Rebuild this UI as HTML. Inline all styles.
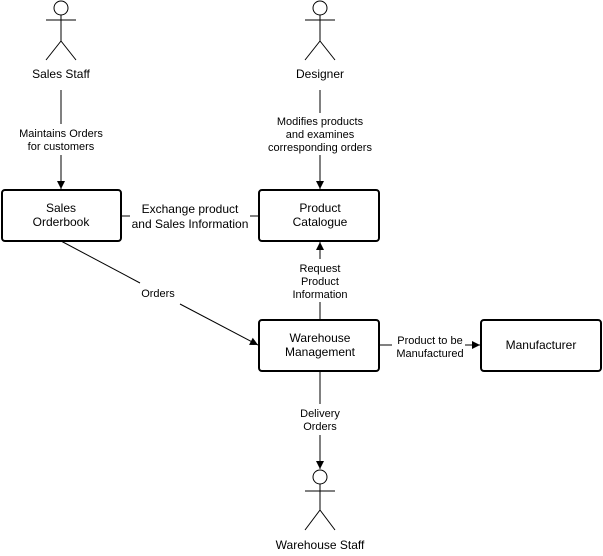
<!DOCTYPE html>
<html><head><style>
html,body{margin:0;padding:0;background:#fff;}
svg{display:block;}
text{font-family:"Liberation Sans",sans-serif;fill:#000;}
</style></head><body>
<svg width="603" height="556" viewBox="0 0 603 556" xmlns="http://www.w3.org/2000/svg">
<defs>
<marker id="a" markerWidth="10" markerHeight="10" refX="9" refY="5" orient="auto" markerUnits="userSpaceOnUse">
<path d="M1,1 L9,5 L1,9 Z" fill="#000"/>
</marker>
</defs>
<g fill="none" stroke="#000" stroke-width="1">
<!-- Sales staff actor -->
<circle cx="61" cy="8" r="7" fill="#fff"/>
<line x1="61" y1="15" x2="61" y2="41"/>
<line x1="46" y1="20" x2="76" y2="20"/>
<line x1="61" y1="41" x2="46" y2="60"/>
<line x1="61" y1="41" x2="76" y2="60"/>
<!-- Designer actor -->
<circle cx="320" cy="8" r="7" fill="#fff"/>
<line x1="320" y1="15" x2="320" y2="41"/>
<line x1="305" y1="20" x2="335" y2="20"/>
<line x1="320" y1="41" x2="305" y2="60"/>
<line x1="320" y1="41" x2="335" y2="60"/>
<!-- Warehouse staff actor -->
<circle cx="320" cy="477" r="7" fill="#fff"/>
<line x1="320" y1="484" x2="320" y2="510"/>
<line x1="305" y1="491" x2="335" y2="491"/>
<line x1="320" y1="510" x2="305" y2="530"/>
<line x1="320" y1="510" x2="335" y2="530"/>
<!-- connectors -->
<line x1="61" y1="90" x2="61" y2="124"/>
<line x1="61" y1="155" x2="61" y2="189" marker-end="url(#a)"/>
<line x1="320" y1="90" x2="320" y2="113"/>
<line x1="320" y1="155" x2="320" y2="189" marker-end="url(#a)"/>
<line x1="121" y1="216" x2="130" y2="216"/>
<line x1="250" y1="216" x2="259" y2="216"/>
<line x1="61" y1="241" x2="140" y2="283"/>
<line x1="180" y1="304" x2="258" y2="345" marker-end="url(#a)"/>
<line x1="320" y1="320" x2="320" y2="302"/>
<line x1="320" y1="259" x2="320" y2="242" marker-end="url(#a)"/>
<line x1="379" y1="345" x2="392" y2="345"/>
<line x1="465" y1="345" x2="480" y2="345" marker-end="url(#a)"/>
<line x1="320" y1="371" x2="320" y2="404"/>
<line x1="320" y1="435" x2="320" y2="469" marker-end="url(#a)"/>
<!-- boxes -->
<g stroke-width="2" fill="#fff">
<rect x="2" y="190" width="119" height="51" rx="3"/>
<rect x="259" y="190" width="120" height="51" rx="3"/>
<rect x="259" y="320" width="120" height="51" rx="3"/>
<rect x="481" y="320" width="120" height="51" rx="3"/>
</g>
</g>
<g font-size="12" text-anchor="middle">
<text x="61" y="78">Sales Staff</text>
<text x="320" y="78">Designer</text>
<text x="320" y="549">Warehouse Staff</text>
<text x="61" y="212">Sales</text>
<text x="61" y="226">Orderbook</text>
<text x="320" y="212">Product</text>
<text x="320" y="226">Catalogue</text>
<text x="320" y="342">Warehouse</text>
<text x="320" y="356">Management</text>
<text x="541" y="349">Manufacturer</text>
<text x="190" y="213">Exchange product</text>
<text x="190" y="228">and Sales Information</text>
</g>
<g font-size="11" text-anchor="middle">
<text x="61" y="137">Maintains Orders</text>
<text x="61" y="150">for customers</text>
<text x="320" y="125">Modifies products</text>
<text x="320" y="138">and examines</text>
<text x="320" y="151">corresponding orders</text>
<text x="158" y="297">Orders</text>
<text x="320" y="272">Request</text>
<text x="320" y="285">Product</text>
<text x="320" y="298">Information</text>
<text x="430" y="344">Product to be</text>
<text x="430" y="357">Manufactured</text>
<text x="320" y="417">Delivery</text>
<text x="320" y="430">Orders</text>
</g>
</svg>
</body></html>
